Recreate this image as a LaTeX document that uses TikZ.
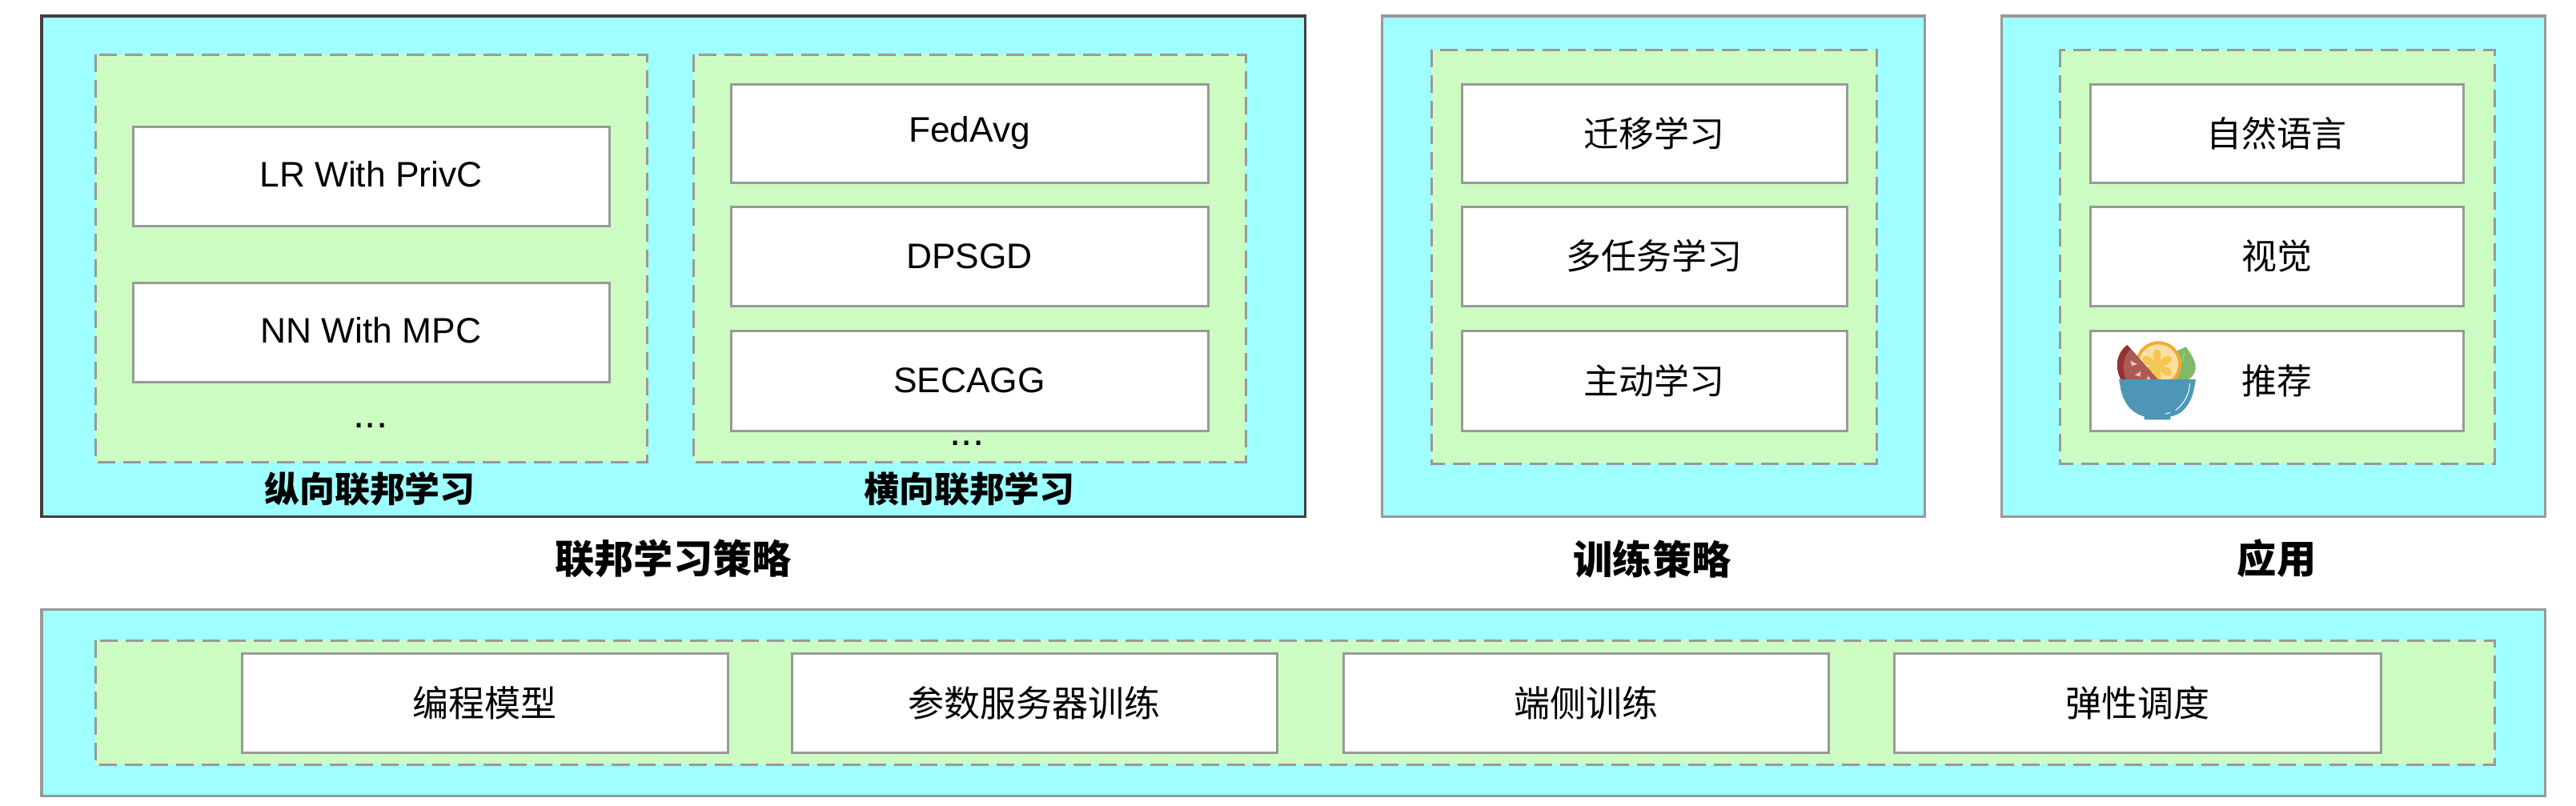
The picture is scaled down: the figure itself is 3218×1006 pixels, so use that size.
\documentclass[tikz,border=0pt]{standalone}
\usepackage{fontspec}
\setmainfont{Liberation Sans}
\newfontfamily\cjk{Noto Sans CJK SC}
\definecolor{cy}{HTML}{9FFFFF}
\definecolor{gr}{HTML}{CCFCC2}
\definecolor{ln}{HTML}{999999}
\tikzset{
 outerbox/.style={fill=cy,draw=ln,line width=0.03cm},
 darkbox/.style={fill=cy,draw=black!75,line width=0.03cm},
 dashbox/.style={fill=gr,draw=ln,line width=0.03cm,dash pattern=on 0.22cm off 0.10cm},
 itembox/.style={fill=white,draw=ln,line width=0.03cm},
 en/.style={font=\fontsize{12.6}{15}\selectfont,text=black},
 zh/.style={font=\cjk\fontsize{12.5}{15}\selectfont,text=black},
 zhb/.style={font=\cjk\fontsize{12.8}{15}\selectfont,text=black},
 sub/.style={font=\cjk\bfseries\fontsize{12.5}{15}\selectfont,text=black},
 ttl/.style={font=\cjk\bfseries\fontsize{14}{16}\selectfont,text=black},
 dots/.style={font=\fontsize{14.5}{16}\selectfont,text=black,inner sep=0pt},
}
\begin{document}
\begin{tikzpicture}[x=0.01cm,y=-0.01cm]
\useasboundingbox (0,0) rectangle (3218,1006);
% federated panel
\draw[darkbox] (52,20) rectangle (1630,645);
\draw[dashbox] (119,68) rectangle (808,577);
\draw[dashbox] (866,68) rectangle (1556,577);
\draw[itembox] (166,158) rectangle node[en,yshift=0.02cm] (lr) {LR With PrivC} (761,282);
\draw[itembox] (166,353) rectangle node[en,yshift=0.02cm] (nn) {NN With MPC} (761,477);
\node[dots] (d1) at (463,532) {...};
\draw[itembox] (913,105) rectangle node[en] (fa) {FedAvg} (1509,228);
\draw[itembox] (913,258) rectangle node[en] (dp) {DPSGD} (1509,382);
\draw[itembox] (913,413) rectangle node[en] (se) {SECAGG} (1509,538);
\node[dots] (d2) at (1208,554) {...};
\node[sub] (v) at (462,611) {纵向联邦学习};
\node[sub] (h) at (1211,611) {横向联邦学习};
\node[ttl] (t1) at (841,698) {联邦学习策略};
% training panel
\draw[outerbox] (1726,20) rectangle (2404,645);
\draw[dashbox] (1788,62) rectangle (2344,579);
\draw[itembox] (1826,105) rectangle node[zh] (a1) {迁移学习} (2307,228);
\draw[itembox] (1826,258) rectangle node[zh] (a2) {多任务学习} (2307,382);
\draw[itembox] (1826,413) rectangle node[zh] (a3) {主动学习} (2307,538);
\node[ttl] (t2) at (2064,698) {训练策略};
% application panel
\draw[outerbox] (2500,20) rectangle (3179,645);
\draw[dashbox] (2573,62) rectangle (3116,579);
\draw[itembox] (2611,105) rectangle node[zh] (b1) {自然语言} (3077,228);
\draw[itembox] (2611,258) rectangle node[zh] (b2) {视觉} (3077,382);
\draw[itembox] (2611,413) rectangle node[zh] (b3) {推荐} (3077,538);
\node[ttl] (t3) at (2844,698) {应用};
% bowl
\begin{scope}[shift={(2500,380)},x=0.003333cm,y=-0.003333cm]
% leaf
\fill[color={rgb,255:red,128;green,186;blue,103}] (693,160) .. controls (715,190) and (735,220) .. (728,250) .. controls (722,268) and (712,278) .. (700,284) -- (640,284) -- (650,180) -- cycle;
\draw[white!70!green,line width=0.004cm] (690,182) -- (665,245);
% orange
\fill[color={rgb,255:red,245;green,168;blue,50}] (590,225) circle [radius=86];
\fill[color={rgb,255:red,249;green,224;blue,160}] (590,225) circle [radius=74];
\foreach \a in {30,90,150,210,270,330}{
 \fill[color={rgb,255:red,246;green,198;blue,80},rotate around={\a:(585,232)}] (585,232) .. controls (610,215) and (640,210) .. (648,232) .. controls (640,254) and (610,249) .. (585,232) -- cycle;
}
% melon
\fill[color={rgb,255:red,148;green,52;blue,50}] (473,153) .. controls (430,185) and (425,240) .. (450,285) -- (590,285) -- cycle;
\fill[color={rgb,255:red,172;green,90;blue,88}] (485,170) .. controls (455,200) and (450,245) .. (470,285) -- (590,285) -- cycle;
\fill[color={rgb,255:red,236;green,208;blue,170}] (485,212) -- (510,225) -- (490,232) -- cycle;
\fill[color={rgb,255:red,236;green,208;blue,170}] (524,252) -- (520,272) -- (502,266) -- cycle;
\fill[color={rgb,255:red,236;green,208;blue,170}] (552,268) -- (560,285) -- (545,285) -- cycle;
% bowl body
\fill[color={rgb,255:red,77;green,150;blue,181}] (442,283) -- (730,283) -- (726,305) .. controls (715,375) and (680,415) .. (635,422) -- (635,434) -- (537,434) -- (537,422) .. controls (490,410) and (455,370) .. (446,305) -- cycle;
\draw[white,line width=0.01cm,line cap=round] (708,298) .. controls (704,340) and (690,370) .. (655,398);
\draw[white,line width=0.01cm,line cap=round] (617,412) -- (634,407);
\end{scope}
% bottom panel
\draw[outerbox] (52,761) rectangle (3179,994);
\draw[dashbox] (119,800) rectangle (3116,955);
\draw[itembox] (302,816) rectangle node[zhb] (c1) {编程模型} (909,940);
\draw[itembox] (989,816) rectangle node[zhb] (c2) {参数服务器训练} (1595,940);
\draw[itembox] (1678,816) rectangle node[zhb] (c3) {端侧训练} (2284,940);
\draw[itembox] (2366,816) rectangle node[zhb] (c4) {弹性调度} (2974,940);
\end{tikzpicture}
\end{document}
